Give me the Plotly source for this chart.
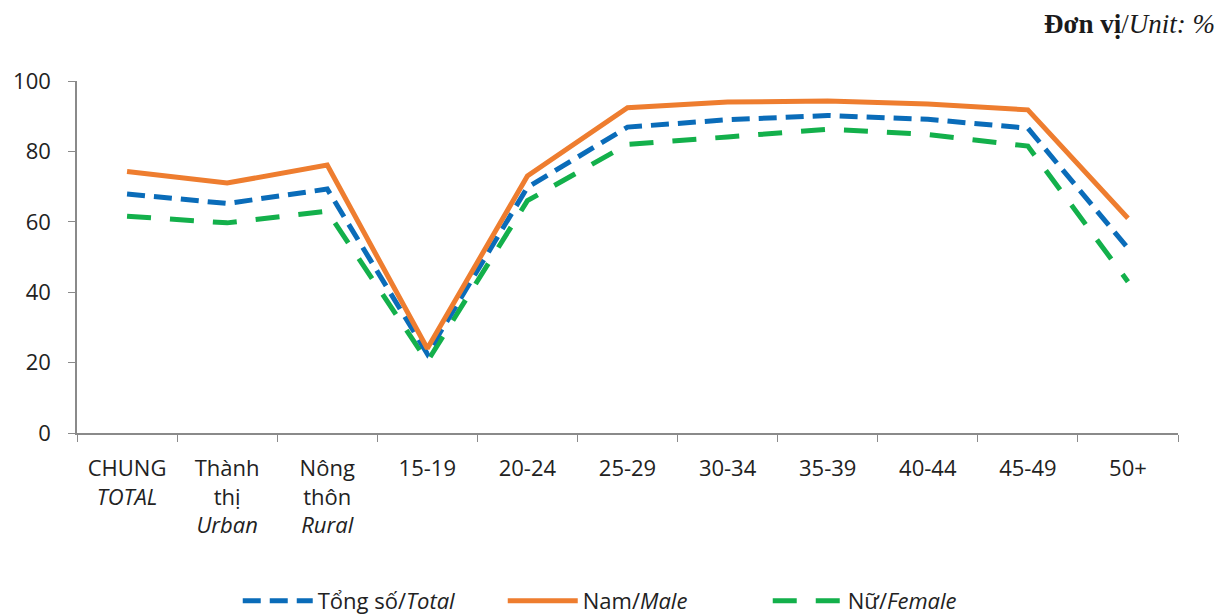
import plotly.graph_objects as go

categories = [
    "CHUNG<br><i>TOTAL</i>",
    "Thành<br>thị<br><i>Urban</i>",
    "Nông<br>thôn<br><i>Rural</i>",
    "15-19", "20-24", "25-29", "30-34", "35-39", "40-44", "45-49", "50+",
]
total = [67.9, 65.2, 69.3, 22.5, 69.8, 86.9, 89.0, 90.2, 89.1, 86.6, 52.5]
male = [74.3, 71.0, 76.1, 24.0, 73.0, 92.4, 94.0, 94.3, 93.5, 91.8, 61.0]
female = [61.6, 59.7, 63.0, 20.3, 66.0, 82.0, 84.1, 86.3, 84.8, 81.5, 43.0]

BLUE = "#0a6cb9"
ORANGE = "#ee7d2f"
GREEN = "#13b04b"
FONT = "Open Sans"
TXT = "#222222"
AXIS = "#8a8a8a"

fig = go.Figure()
fig.add_trace(go.Scatter(
    x=categories, y=female, mode="lines", name="Nữ/<i>Female</i>",
    line=dict(color=GREEN, width=5, dash="24px,19px"), legendrank=3,
))
fig.add_trace(go.Scatter(
    x=categories, y=total, mode="lines", name="Tổng số/<i>Total</i>",
    line=dict(color=BLUE, width=5, dash="18px,9px"), legendrank=1,
))
fig.add_trace(go.Scatter(
    x=categories, y=male, mode="lines", name="Nam/<i>Male</i>",
    line=dict(color=ORANGE, width=5), legendrank=2,
))

fig.update_layout(
    width=1227, height=616,
    margin=dict(l=77, r=49, t=81, b=183, autoexpand=False),
    paper_bgcolor="white", plot_bgcolor="white",
    font=dict(family=FONT, size=22, color=TXT),
    showlegend=True,
    legend=dict(
        orientation="h", x=0.146, xanchor="left", y=-0.477, yanchor="middle",
        itemwidth=70, entrywidth=180, entrywidthmode="pixels",
        font=dict(family=FONT, size=22, color=TXT),
        traceorder="normal", itemclick=False,
    ),
    annotations=[dict(
        text="<b>Đơn vị</b>/<i>Unit: %</i>",
        xref="paper", yref="paper", x=1.035, y=1.162,
        xanchor="right", yanchor="middle", showarrow=False,
        font=dict(family="Liberation Serif", size=27, color="#1a1a1a"),
    )],
)

fig.update_xaxes(
    type="category", tickson="boundaries", ticks="outside", ticklen=7,
    tickcolor=AXIS, showline=True, linecolor=AXIS, linewidth=1.5,
    showgrid=False, tickfont=dict(family=FONT, size=22, color=TXT),
    ticklabelstandoff=15, range=[-0.5, 10.5], automargin=False,
)
fig.update_yaxes(
    range=[0, 100], dtick=20, ticks="outside", ticklen=7,
    tickcolor=AXIS, showline=True, linecolor=AXIS, linewidth=1.5,
    showgrid=False, zeroline=False, ticklabelstandoff=13, automargin=False,
    tickfont=dict(family=FONT, size=22, color=TXT),
)

fig.write_html("out.html")
